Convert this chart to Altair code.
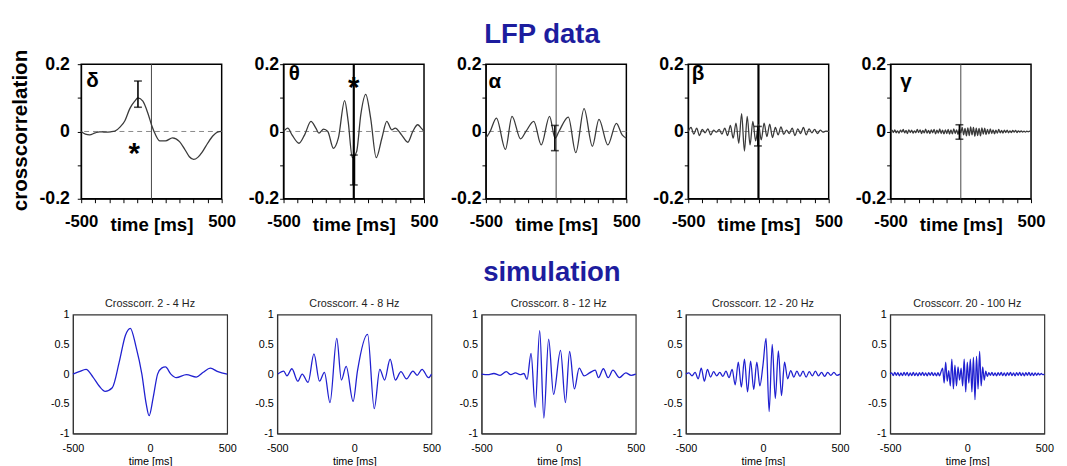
import altair as alt
import pandas as pd
import numpy as np

# ---------------- LFP data (top row) ----------------
DELTA_T = [-500, -470, -440, -400, -370, -330, -290, -260, -224, -189, -154, -119, -96, -61, -26, 2, 26, 60, 100, 150, 200, 240, 270, 300, 330, 360, 400, 440, 470, 500]
DELTA_V = [0.0, -0.008, -0.01, -0.004, -0.001, -0.002, -0.001, 0.001, 0.013, 0.032, 0.068, 0.09, 0.1, 0.09, 0.055, 0.018, -0.007, -0.028, -0.028, -0.019, -0.03, -0.055, -0.075, -0.083, -0.077, -0.062, -0.035, -0.012, -0.002, 0.0]

THETA_T = [-500, -470, -440, -390, -350, -305, -270, -248, -215, -185, -145, -110, -65, -40, -10, 20, 50, 85, 120, 160, 200, 235, 270, 295, 340, 385, 420, 455, 480, 500]
THETA_V = [0.0, 0.01, -0.01, -0.035, -0.01, 0.03, 0.01, -0.005, 0.007, 0.0, -0.05, -0.02, 0.092, 0.03, -0.078, -0.06, 0.05, 0.11, 0.04, -0.078, -0.02, 0.03, 0.005, 0.01, -0.01, -0.032, 0.0, 0.02, 0.01, 0.0]

ALPHA_T = [-500, -470, -425, -361, -314, -253, -215, -159, -106, -47, -7, 20, 87, 140, 199, 258, 305, 368, 429, 470, 500]
ALPHA_V = [-0.02, 0.0, 0.04, -0.053, 0.045, -0.022, 0.0, 0.03, -0.04, 0.045, -0.02, 0.0, 0.043, -0.063, 0.068, -0.044, 0.036, -0.04, 0.024, -0.01, -0.02]

BETA_V = [0.0, 0.012, -0.008, 0.01, -0.012, 0.006, -0.004, 0.008, -0.01, 0.004, -0.002, 0.006, -0.008, 0.01, -0.012, 0.018, -0.02, 0.025, -0.035, 0.053, -0.058, 0.045, -0.04, 0.03, -0.028, 0.02, -0.025, 0.025, -0.015, 0.022, -0.018, 0.012, -0.01, 0.014, -0.008, 0.004, -0.006, 0.01, -0.012, 0.008, -0.006, 0.012, -0.01, 0.008, -0.004, 0.006, -0.006, 0.004, -0.002, 0.001, 0.0]

GAMMA_V = [0, 0.004, -0.003, 0.005, -0.004, 0.002, -0.005, 0.004, -0.002, 0.006, -0.004, 0.003, -0.006, 0.005, -0.003, 0.004, -0.005, 0.002, -0.004, 0.006, -0.003, 0.005, -0.006, 0.003, -0.004, 0.007, -0.005, 0.003, -0.006, 0.005, -0.004, 0.006, -0.007, 0.004, -0.005, 0.008, -0.006, 0.004, -0.007, 0.005, -0.006, 0.006, -0.008, 0.005, -0.007, 0.008, -0.006, 0.005, -0.009, 0.007, -0.004, 0.012, -0.01, 0.009, -0.013, 0.011, -0.012, 0.014, -0.01, 0.012, -0.014, 0.01, -0.012, 0.009, -0.013, 0.011, -0.008, 0.01, -0.009, 0.006, -0.007, 0.008, -0.006, 0.005, -0.007, 0.004, -0.005, 0.006, -0.004, 0.003, -0.005, 0.004, -0.003, 0.004, -0.004, 0.002, -0.003, 0.003, -0.002, 0.003, -0.003, 0.002, -0.002, 0.002, -0.002, 0.001, -0.002, 0.001, -0.001, 0.001, 0]

GREEK = ["δ", "θ", "α", "β", "γ"]
GREEK_T = [-420, -423, -437, -430, -390]
GREEK_V = [0.15, 0.171, 0.148, 0.171, 0.148]

ERR_T = [-96, 0, -9, -4, -10]
ERR_LO = [0.072, -0.159, -0.057, -0.043, -0.023]
ERR_HI = [0.150, -0.070, 0.018, 0.015, 0.02]

STAR_T = [-122, 0]
STAR_V = [-0.048, 0.15]

# ---------------- simulation (bottom row) ----------------
SIM_TITLES = ["Crosscorr. 2 - 4 Hz", "Crosscorr. 4 - 8 Hz", "Crosscorr. 8 - 12 Hz", "Crosscorr. 12 - 20 Hz", "Crosscorr. 20 - 100 Hz"]

B1_T = [-500, -460, -415, -370, -330, -291, -245, -200, -160, -128, -90, -53, -25, -6, 20, 49, 75, 100, 135, 170, 236, 300, 345, 391, 440, 500]
B1_V = [0.0, 0.04, 0.08, -0.05, -0.2, -0.29, -0.23, 0.2, 0.65, 0.77, 0.45, 0.0, -0.5, -0.7, -0.4, 0.0, 0.1, 0.12, 0.0, -0.06, -0.01, -0.05, 0.03, 0.1, 0.04, 0.0]

B2_T = [-496, -458, -437, -405, -367, -338, -300, -262, -226, -194, -158, -114, -84, -53, -8, 20, 86, 129, 165, 196, 232, 266, 302, 338, 380, 407, 439, 481, 500]
B2_V = [0.0, 0.05, -0.03, 0.09, -0.12, 0.0, -0.14, 0.34, -0.12, 0.03, -0.48, 0.6, -0.1, 0.13, -0.46, 0.05, 0.67, -0.58, 0.08, -0.1, 0.25, -0.1, 0.04, -0.08, 0.05, -0.02, 0.08, -0.06, 0.0]

B3_T = [-500, -460, -420, -380, -340, -310, -280, -250, -225, -205, -179, -152, -123, -96, -65, -33, 12, 44, 71, 102, 133, 165, 200, 237, 258, 290, 321, 352, 394, 435, 470, 500]
B3_V = [0.0, -0.01, 0.01, -0.02, 0.04, -0.01, 0.02, -0.01, 0.01, -0.09, 0.35, -0.56, 0.73, -0.74, 0.59, -0.34, 0.4, -0.48, 0.38, -0.25, 0.1, -0.03, 0.02, 0.066, -0.06, 0.09, -0.06, 0.066, -0.06, 0.02, -0.02, 0.0]

B4_V = [0.0, 0.02, -0.03, 0.03, -0.08, 0.1, -0.12, 0.08, -0.05, 0.04, -0.03, 0.03, -0.04, 0.05, -0.06, 0.08, -0.18, 0.2, -0.22, 0.25, -0.3, 0.22, -0.26, 0.2, -0.2, 0.15, 0.6, -0.63, 0.5, -0.41, 0.39, -0.36, 0.2, -0.08, 0.06, -0.05, 0.05, -0.04, 0.05, -0.05, 0.04, -0.03, 0.05, -0.03, 0.03, -0.04, 0.03, -0.02, 0.03, -0.02, 0.0]

B5_V = [0, 0.02, -0.025, 0.03, -0.02, 0.025, -0.03, 0.02, -0.025, 0.03, -0.02, 0.028, -0.03, 0.02, -0.025, 0.03, -0.025, 0.02, -0.03, 0.025, -0.02, 0.03, -0.025, 0.02, -0.03, 0.025, -0.02, 0.03, -0.025, 0.02, -0.03, 0.025, -0.03, 0.04,
        0.1, -0.15, 0.2, -0.12, 0.06, -0.2, 0.25, -0.25, 0.15, -0.2, 0.12, -0.1, 0.1, -0.2, 0.25, -0.3, 0.2, -0.15, 0.25, -0.3, 0.28, -0.43, 0.3, -0.25, 0.38, -0.2, 0.12, -0.1, 0.05, -0.04,
        0.025, -0.02, 0.03, -0.025, 0.02, -0.03, 0.025, -0.02, 0.03, -0.025, 0.02, -0.03, 0.025, -0.02, 0.03, -0.025, 0.02, -0.03, 0.025, -0.02, 0.03, -0.025, 0.02, -0.03, 0.025, -0.02, 0.03, -0.025, 0.02, -0.025, 0.02, -0.02, 0.015, -0.015, 0.01, -0.01, 0.0]

TOP_FONT = "Liberation Sans, Arial"
SIM_FONT = "Liberation Sans, Arial"
TITLE_BLUE = "#1d1d9e"
SIM_BLUE = "#2020d0"


def grid(vals):
    return list(np.linspace(-500, 500, len(vals)))


def top_panel(i, t, v):
    xs = alt.Scale(domain=[-500, 500], nice=False, zero=False)
    ys = alt.Scale(domain=[-0.2, 0.2], nice=False, zero=False)
    x_enc = alt.X("t:Q", scale=xs, axis=alt.Axis(
        values=list(range(-500, 501, 100)),
        labelExpr="datum.value == -500 || datum.value == 500 ? '' + datum.value : ''",
        title="time [ms]", titleFont=TOP_FONT, titleFontSize=19, titleFontWeight="bold",
        titleY=32, titleBaseline="alphabetic", titleColor="black",
        labelFont=TOP_FONT, labelFontSize=17, labelFontWeight="bold", labelColor="black",
        labelPadding=11, tickSize=4, tickColor="black", domainColor="black", grid=False,
        labelFlush=False, labelOverlap=False))
    y_enc = alt.Y("v:Q", scale=ys, axis=alt.Axis(
        values=[-0.2, -0.1, 0, 0.1, 0.2],
        labelExpr="datum.value == 0.1 || datum.value == -0.1 ? '' : '' + datum.value",
        labelFont=TOP_FONT, labelFontSize=18, labelFontWeight="bold", labelColor="black",
        labelPadding=8 if i == 0 else 1, tickSize=4, tickColor="black", domainColor="black", grid=False,
        labelFlush=False, labelOverlap=False, title=None))

    line_df = pd.DataFrame({"t": t, "v": v})
    zero_df = pd.DataFrame({"t": [0], "v": [0]})
    err_df = pd.DataFrame({"t": [ERR_T[i]], "v": [ERR_LO[i]], "v2": [ERR_HI[i]]})
    cap_df = pd.DataFrame({"t": [ERR_T[i], ERR_T[i]], "v": [ERR_LO[i], ERR_HI[i]]})
    greek_df = pd.DataFrame({"t": [GREEK_T[i]], "v": [GREEK_V[i]], "g": [GREEK[i]]})

    thick = i in (1, 3)
    layers = [
        alt.Chart(zero_df).mark_rule(color="#888", strokeDash=[5, 4], strokeWidth=1).encode(y=y_enc),
        alt.Chart(zero_df).mark_rule(color="black" if thick else "#444",
                                     strokeWidth=2.2 if thick else 1).encode(x=x_enc),
        alt.Chart(line_df).mark_line(color="#3a3a3a", strokeWidth=1.3, interpolate="monotone").encode(x=x_enc, y=y_enc),
        alt.Chart(err_df).mark_rule(color="black", strokeWidth=3 if i == 1 else 1.6).encode(x=x_enc, y=y_enc, y2="v2:Q"),
        alt.Chart(cap_df).mark_tick(color="black", orient="horizontal", size=8, thickness=1.6).encode(x=x_enc, y=y_enc),
        alt.Chart(greek_df).mark_text(font=TOP_FONT, fontSize=21, fontWeight="bold", color="black",
                                      baseline="middle", align="center").encode(x=x_enc, y=y_enc, text="g:N"),
    ]
    if i in (0, 1):
        star_df = pd.DataFrame({"t": [STAR_T[i]], "v": [STAR_V[i]], "s": ["*"]})
        layers.append(alt.Chart(star_df).mark_text(fontSize=30, fontWeight="bold", color="black", dy=7,
                                                   baseline="middle").encode(x=x_enc, y=y_enc, text="s:N"))
    return alt.layer(*layers).properties(
        width=143, height=137,
        view=alt.ViewBackground(stroke="black", strokeWidth=1.5))


def sim_panel(i, t, v):
    xs = alt.Scale(domain=[-500, 500], nice=False, zero=False)
    ys = alt.Scale(domain=[-1, 1], nice=False, zero=False)
    x_enc = alt.X("t:Q", scale=xs, axis=alt.Axis(
        values=[-500, 0, 500], labelExpr="'' + datum.value", title="time [ms]",
        titleFont=SIM_FONT, titleFontSize=11, titleFontWeight="normal", titleColor="black", titlePadding=3,
        labelFont=SIM_FONT, labelFontSize=11, labelColor="black", labelPadding=9,
        ticks=False, domainColor="#333", grid=False, labelFlush=False))
    y_enc = alt.Y("v:Q", scale=ys, axis=alt.Axis(
        values=[-1, -0.5, 0, 0.5, 1], labelExpr="'' + datum.value", title=None,
        labelFont=SIM_FONT, labelFontSize=11, labelColor="black", labelPadding=4,
        ticks=False, domainColor="#333", grid=False, labelFlush=False))
    df = pd.DataFrame({"t": t, "v": v})
    return alt.Chart(df).mark_line(color=SIM_BLUE, strokeWidth=1.3, interpolate="monotone").encode(
        x=x_enc, y=y_enc).properties(
        width=157, height=121,
        title=alt.TitleParams(SIM_TITLES[i], font=SIM_FONT, fontSize=11, fontWeight="normal", color="#222", offset=0),
        view=alt.ViewBackground(stroke="#333", strokeWidth=1.2))


tops = [
    top_panel(0, DELTA_T, DELTA_V),
    top_panel(1, THETA_T, THETA_V),
    top_panel(2, ALPHA_T, ALPHA_V),
    top_panel(3, grid(BETA_V), BETA_V),
    top_panel(4, grid(GAMMA_V), GAMMA_V),
]
bots = [
    sim_panel(0, B1_T, B1_V),
    sim_panel(1, B2_T, B2_V),
    sim_panel(2, B3_T, B3_V),
    sim_panel(3, grid(B4_V), B4_V),
    sim_panel(4, grid(B5_V), B5_V),
]

top_row = alt.hconcat(*tops, spacing=63, bounds="flush",
                      title=alt.TitleParams("LFP data", font="Liberation Sans, Arial", fontSize=28,
                                            fontWeight="bold", color=TITLE_BLUE, anchor="middle", offset=6))
bot_row = alt.hconcat(*bots, spacing=51, bounds="flush",
                      title=alt.TitleParams("simulation", font="Liberation Sans, Arial", fontSize=28,
                                            fontWeight="bold", color=TITLE_BLUE, anchor="middle", offset=11))

chart = alt.vconcat(top_row, bot_row, spacing=24, center=True,
                    title=alt.TitleParams("crosscorrelation", orient="left", anchor="end", font="Liberation Sans, Arial",
                                          fontSize=21, fontWeight="bold", color="black", offset=7, dx=-29)).properties(
    padding={"left": 2, "top": 9, "right": 5, "bottom": 2},
    background="white")

chart.save("out.html", embed_options={"renderer": "svg", "actions": False})
